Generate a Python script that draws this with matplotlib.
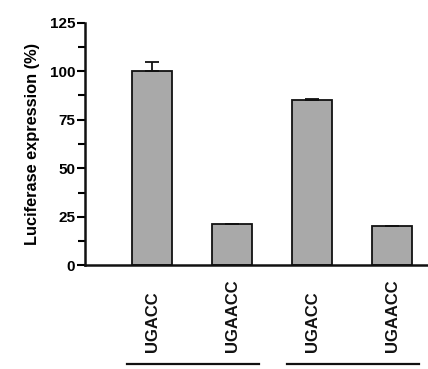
import matplotlib
matplotlib.use("Agg")
import matplotlib.pyplot as plt
import matplotlib.transforms as mtransforms
from matplotlib.ticker import MultipleLocator

categories = ["UGACC", "UGAACC", "UGACC", "UGAACC"]
values = [100, 21.6, 85.2, 20.2]
errors = [4.6, 0, 0.5, 0]
yticks = [0, 25, 50, 75, 100, 125]
groups = [(0, 1), (2, 3)]

plt.rcParams['font.family'] = ['Liberation Sans', 'DejaVu Sans']
plt.rcParams['font.weight'] = 'bold'

fig = plt.figure(figsize=(4.28, 3.69), dpi=100)
ax = fig.add_axes([0.1986, 0.2805, 0.8014, 0.6585])

x = list(range(len(categories)))
ax.bar(x, values, width=0.5, color='#a9a9a9', edgecolor='#111111', linewidth=1.3,
       yerr=[[0] * len(errors), errors],
       error_kw=dict(ecolor='#111111', elinewidth=1.3, capsize=5, capthick=1.3),
       zorder=2)

ax.set_xlim(-0.84, 3.45)
ax.set_ylim(0, 125)
ax.set_yticks(yticks)
ax.set_yticklabels([str(v) for v in yticks], fontsize=11, fontweight='bold')
ax.yaxis.set_minor_locator(MultipleLocator(12.5))
ax.tick_params(axis='y', which='major', length=6, width=1.5, pad=1)
ax.tick_params(axis='y', which='minor', length=5, width=1.5)
ax.set_xticks(x)
ax.set_xticklabels([])
ax.tick_params(axis='x', length=0)
ax.set_ylabel("Luciferase expression (%)", fontsize=11.8, fontweight='bold', labelpad=7)

for s in ['top', 'right']:
    ax.spines[s].set_visible(False)
for s in ['left', 'bottom']:
    ax.spines[s].set_linewidth(1.8)
    ax.spines[s].set_color('#111111')

trans = mtransforms.blended_transform_factory(ax.transData, fig.transFigure)
for xi, lab in zip(x, categories):
    ax.text(xi, 0.046, lab, transform=trans, rotation=90, ha='center', va='bottom',
            fontsize=12, fontweight='bold', color='#111111')
for a, b in groups:
    ax.plot([a - 0.31, b + 0.34], [0.0135, 0.0135], transform=trans, color='#111111',
            linewidth=1.6, clip_on=False)

fig.savefig("out.png", dpi=100)
